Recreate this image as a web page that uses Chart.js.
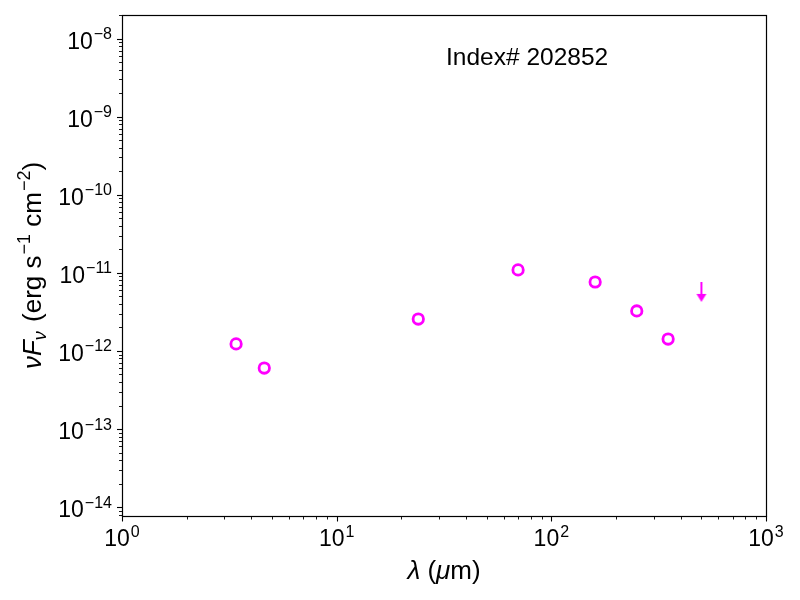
<!DOCTYPE html>
<html>
<head>
<meta charset="utf-8">
<script src="https://cdn.jsdelivr.net/npm/chart.js@4/dist/chart.umd.min.js"></script>
<style>
html,body{margin:0;padding:0;background:#fff;}
#c{display:block;}
</style>
</head>
<body>
<canvas id="c" width="800" height="600"></canvas>
<script>
// ---- data ----
const wavelengths = [3.4, 4.6, 24, 70, 160, 250, 350];
const fluxes = [1.23e-12, 6.04e-13, 2.56e-12, 1.09e-11, 7.63e-12, 3.25e-12, 1.42e-12];
const limitWavelengths = [500];
const limitFluxes = [5.7e-12];
const xTickExponents = [0, 1, 2, 3];
const yTickExponents = [-14, -13, -12, -11, -10, -9, -8];
const annotation = 'Index# 202852';

const FONT = '"Liberation Sans", Arial, Helvetica, sans-serif';
const MAGENTA = '#ff00ff';

// arrow marker for upper limit
const arrow = document.createElement('canvas');
arrow.width = 12; arrow.height = 20;
(function(){
  const a = arrow.getContext('2d');
  a.strokeStyle = MAGENTA; a.fillStyle = MAGENTA; a.lineWidth = 2;
  a.beginPath(); a.moveTo(6, 0); a.lineTo(6, 13); a.stroke();
  a.beginPath(); a.moveTo(1, 12); a.lineTo(11, 12); a.lineTo(6, 20); a.closePath(); a.fill();
})();

function drawRich(ctx, pieces, x, y, align) {
  let w = 0;
  pieces.forEach(p => {
    ctx.font = (p.italic ? 'italic ' : '') + p.size + 'px ' + FONT;
    p.w = ctx.measureText(p.text).width + (p.gap || 0);
    w += p.w;
  });
  let cx = align === 'right' ? x - w : align === 'center' ? x - w / 2 : x;
  ctx.textBaseline = 'alphabetic';
  ctx.textAlign = 'left';
  pieces.forEach(p => {
    ctx.font = (p.italic ? 'italic ' : '') + p.size + 'px ' + FONT;
    ctx.fillText(p.text, cx + (p.pre || 0), y + (p.dy || 0));
    cx += p.w;
  });
}
function powLabel(e) {
  const s = e < 0 ? '\u2212' + (-e) : String(e);
  return [{text: '10', size: 23}, {text: s, size: 16, dy: -9.5, pre: 1, gap: 1}];
}

const decorPlugin = {
  id: 'decor',
  afterDatasetsDraw(chart) {
    const ctx = chart.ctx, a = chart.chartArea;
    const xs = chart.scales.x, ys = chart.scales.y;
    ctx.save();
    ctx.fillStyle = '#000'; ctx.strokeStyle = '#000';
    // frame
    ctx.lineWidth = 1.2;
    ctx.strokeRect(a.left + 0.5, a.top + 0.5, a.right - a.left, a.bottom - a.top);
    // x ticks
    for (let e = xTickExponents[0]; e <= xTickExponents[xTickExponents.length - 1]; e++) {
      for (let m = 1; m <= 9; m++) {
        const v = m * Math.pow(10, e);
        if (v < xs.min * 0.9999 || v > xs.max * 1.0001) continue;
        const px = Math.round(xs.getPixelForValue(v)) + 0.5;
        const major = m === 1;
        ctx.lineWidth = major ? 1.1 : 0.9;
        ctx.beginPath(); ctx.moveTo(px, a.bottom); ctx.lineTo(px, a.bottom + (major ? 5.5 : 3.5)); ctx.stroke();
      }
    }
    // y ticks
    for (let e = yTickExponents[0] - 1; e <= yTickExponents[yTickExponents.length - 1]; e++) {
      for (let m = 1; m <= 9; m++) {
        const v = m * Math.pow(10, e);
        if (v < ys.min || v > ys.max) continue;
        const py = Math.round(ys.getPixelForValue(v)) + 0.5;
        const major = m === 1;
        ctx.lineWidth = major ? 1.1 : 0.9;
        ctx.beginPath(); ctx.moveTo(a.left, py); ctx.lineTo(a.left - (major ? 5 : 3), py); ctx.stroke();
      }
    }
    // tick labels
    xTickExponents.forEach(e => {
      const px = xs.getPixelForValue(Math.pow(10, e));
      drawRich(ctx, powLabel(e), px, a.bottom + 30, 'center');
    });
    yTickExponents.forEach(e => {
      const py = ys.getPixelForValue(Math.pow(10, e));
      drawRich(ctx, powLabel(e), a.left - 10, py + 10, 'right');
    });
    // x axis title
    drawRich(ctx, [
      {text: '\u03bb', size: 26, italic: true},
      {text: ' (', size: 26},
      {text: '\u03bc', size: 26, italic: true},
      {text: 'm)', size: 26}
    ], (a.left + a.right) / 2, 579, 'center');
    // y axis title
    ctx.save();
    ctx.translate(41, (a.top + a.bottom) / 2);
    ctx.rotate(-Math.PI / 2);
    drawRich(ctx, [
      {text: '\u03bdF', size: 26, italic: true},
      {text: '\u03bd', size: 18, italic: true, dy: 5, gap: 2},
      {text: ' (erg s', size: 26},
      {text: '\u22121', size: 18, dy: -11, pre: 1, gap: 1},
      {text: ' cm', size: 26},
      {text: '\u22122', size: 18, dy: -11, pre: 1, gap: 1},
      {text: ')', size: 26}
    ], 0, 0, 'center');
    ctx.restore();
    // annotation
    drawRich(ctx, [{text: annotation, size: 24.5}], a.left + 0.629 * (a.right - a.left), 65, 'center');
    ctx.restore();
  }
};

new Chart(document.getElementById('c'), {
  type: 'scatter',
  data: {
    datasets: [
      {
        data: wavelengths.map((w, i) => ({x: w, y: fluxes[i]})),
        pointStyle: 'circle',
        radius: 5.2,
        borderWidth: 2.8,
        borderColor: MAGENTA,
        backgroundColor: 'rgba(0,0,0,0)'
      },
      {
        data: limitWavelengths.map((w, i) => ({x: w, y: limitFluxes[i]})),
        pointStyle: arrow,
        radius: 10,
        borderColor: MAGENTA,
        backgroundColor: MAGENTA
      }
    ]
  },
  options: {
    responsive: false,
    devicePixelRatio: 1,
    animation: false,
    events: [],
    layout: {padding: {left: 0, right: 34, top: 15, bottom: 0}},
    plugins: {legend: {display: false}, tooltip: {enabled: false}},
    scales: {
      x: {
        type: 'logarithmic', min: 1, max: 1000,
        ticks: {display: false}, grid: {display: false}, border: {display: false},
        afterFit(s) { s.height = 84; }
      },
      y: {
        type: 'logarithmic', min: 7.7e-15, max: 2e-8,
        ticks: {display: false}, grid: {display: false}, border: {display: false},
        afterFit(s) { s.width = 122; }
      }
    }
  },
  plugins: [decorPlugin]
});
</script>
</body>
</html>
